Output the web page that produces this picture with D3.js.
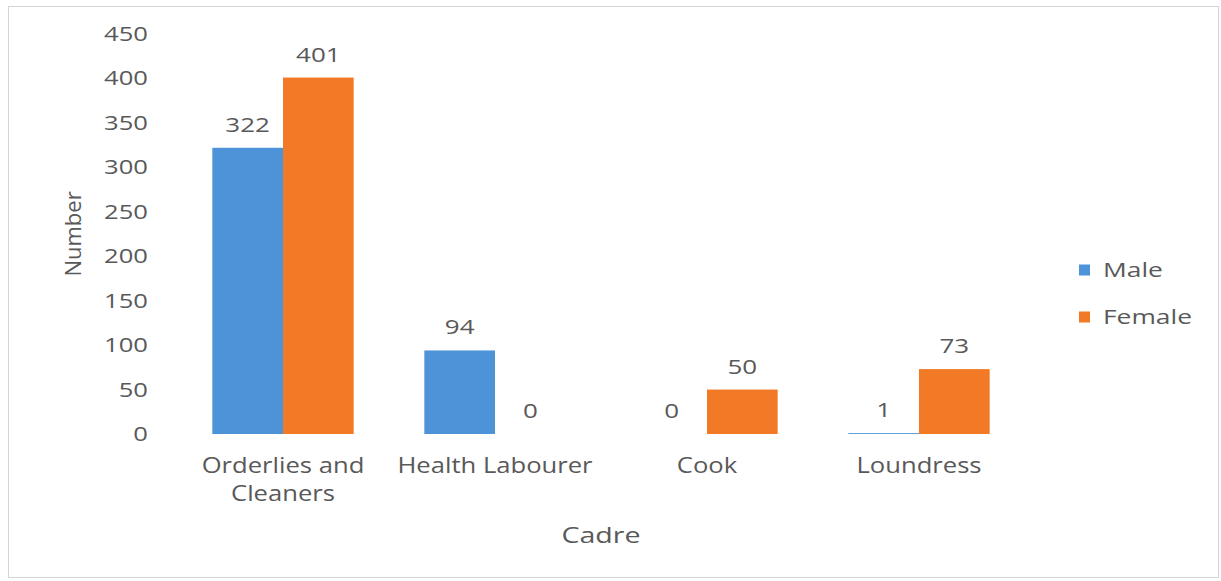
<html>
  <head>
    <meta charset="utf-8">
    <title>Cadre by sex</title>
<style>
body { margin: 0; background: #fff; }
text { font-family: 'Open Sans', sans-serif; fill: #595959; }
</style>
  </head>
  <body>
  <div id="chart"></div>
    <script src="https://d3js.org/d3.v7.min.js"></script>
    <script>

    var cadres = [["Orderlies and", "Cleaners"], ["Health Labourer"], ["Cook"], ["Loundress"]];
    var series = ["Male", "Female"];
    var male = [322, 94, 0, 1];
    var female = [401, 0, 50, 73];
    var yTicks = [0, 50, 100, 150, 200, 250, 300, 350, 400, 450];
    var colors = ["#4d93d8", "#f27a26"];

    // the source picture is stretched sideways, so text gets a wider scale
    function place(x, y, sx) {
      return "translate(" + x + "," + y + ") scale(" + sx + ",1)";
    }

    var svg = d3.select("#chart").append("svg")
      .attr("width", 1221)
      .attr("height", 581);

    svg.append("rect")
      .attr("x", 8.5).attr("y", 6.5)
      .attr("width", 1210).attr("height", 571)
      .attr("fill", "#fff")
      .attr("stroke", "#d4d4d4");

    var x = d3.scaleBand()
      .domain(d3.range(cadres.length))
      .range([177, 1025]);

    var xs = d3.scaleBand()
      .domain(series)
      .range([0, x.bandwidth()])
      .paddingOuter(0.5);

    var y = d3.scaleLinear()
      .domain([0, 450])
      .range([434, 34]);

    // y tick labels, no axis line
    svg.append("g")
      .selectAll("text")
      .data(yTicks)
      .enter().append("text")
      .attr("transform", function(d){ return place(148, y(d), 1.28); })
      .attr("dy", "0.35em")
      .attr("text-anchor", "end")
      .style("font-size", "20px")
      .text(function(d){ return d; });

    var rows = cadres.map(function(c, i){ return [male[i], female[i]]; });

    var group = svg.selectAll(".cadre")
      .data(rows)
      .enter().append("g")
      .attr("class", "cadre")
      .attr("transform", function(d, i){ return "translate(" + x(i) + ",0)"; });

    group.selectAll("rect")
      .data(function(d){ return d; })
      .enter().append("rect")
      .attr("x", function(d, j){ return xs(series[j]); })
      .attr("y", function(d){ return y(d); })
      .attr("width", xs.bandwidth())
      .attr("height", function(d){ return y(0) - y(d); })
      .attr("fill", function(d, j){ return colors[j]; });

    group.selectAll(".val")
      .data(function(d){ return d; })
      .enter().append("text")
      .attr("class", "val")
      .attr("transform", function(d, j){
        return place(xs(series[j]) + xs.bandwidth() / 2, y(d) - 23, 1.3);
      })
      .attr("dy", "0.35em")
      .attr("text-anchor", "middle")
      .style("font-size", "20px")
      .text(function(d){ return d; });

    // category labels
    var cat = svg.append("g")
      .selectAll("text")
      .data(cadres)
      .enter().append("text")
      .attr("transform", function(d, i){ return place(x(i) + x.bandwidth() / 2, 466, 1.22); })
      .attr("text-anchor", "middle")
      .style("font-size", "21px");

    cat.selectAll("tspan")
      .data(function(d){ return d; })
      .enter().append("tspan")
      .attr("x", 0)
      .attr("dy", function(d, k){ return k === 0 ? "0.35em" : "28px"; })
      .text(function(d){ return d; });

    svg.append("text")
      .attr("transform", "translate(73,234) rotate(-90)")
      .attr("text-anchor", "middle")
      .attr("dy", "0.35em")
      .style("font-size", "22px")
      .text("Number");

    svg.append("text")
      .attr("transform", place(601, 535, 1.3))
      .attr("text-anchor", "middle")
      .attr("dy", "0.35em")
      .style("font-size", "22px")
      .text("Cadre");

    var legend = svg.append("g")
      .selectAll("g")
      .data(series)
      .enter().append("g")
      .attr("transform", function(d, i){ return "translate(1079," + (270 + i * 47) + ")"; });

    legend.append("rect")
      .attr("x", 0).attr("y", -5.5)
      .attr("width", 11).attr("height", 11)
      .attr("fill", function(d, i){ return colors[i]; });

    legend.append("text")
      .attr("transform", place(24, 0, 1.32))
      .attr("dy", "0.35em")
      .style("font-size", "20px")
      .text(function(d){ return d; });

    </script>
  </body>
</html>
